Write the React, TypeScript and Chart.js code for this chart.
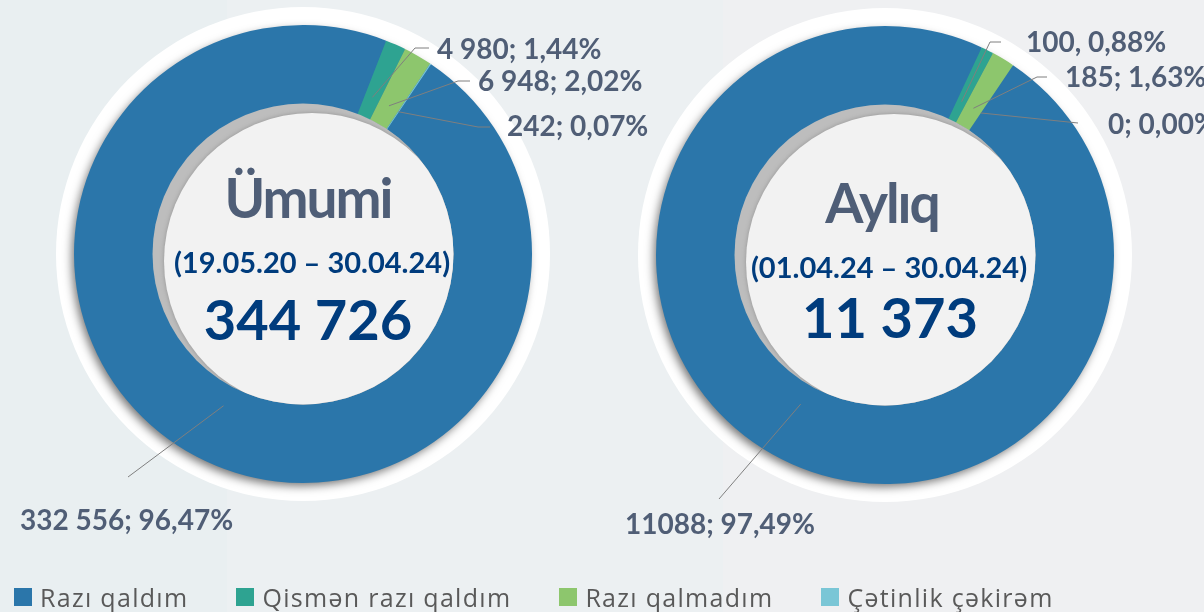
import React, { useEffect, useRef } from "react";
import { Chart, registerables } from "chart.js";

Chart.register(...registerables);

// ---------- data ----------
const categories = ["Razı qaldım", "Qismən razı qaldım", "Razı qalmadım", "Çətinlik çəkirəm"];
const colors = ["#2b76aa", "#2ea391", "#8dc66d", "#7ac6d6"];

const totalValues = [332556, 4980, 6948, 242];
const totalLabels = ["332 556; 96,47%", "4 980; 1,44%", "6 948; 2,02%", "242; 0,07%"];
const totalTitle = "Ümumi";
const totalPeriod = "(19.05.20 – 30.04.24)";
const totalSum = "344 726";

const monthlyValues = [11088, 100, 185, 0];
const monthlyLabels = ["11088; 97,49%", "100, 0,88%", "185; 1,63%", "0; 0,00%"];
const monthlyTitle = "Aylıq";
const monthlyPeriod = "(01.04.24 – 30.04.24)";
const monthlySum = "11 373";

// ---------- layout (relative to each donut centre) ----------
const W = 1204;
const H = 612;
const RADIUS = 229;

type LabelPos = { elbow: number[] | null; end: number[]; text: number[] };

const totalLayout = {
  cx: 303,
  cy: 254,
  title: [5, -36],
  period: [9, 19],
  sum: [5, 86],
  labels: [
    { elbow: null, end: [-175, 223], text: [-283, 267] },
    { elbow: [112, -206], end: [126, -206], text: [134, -204] },
    { elbow: [155, -173], end: [167, -173], text: [175, -172] },
    { elbow: [175, -127], end: [187, -127], text: [204, -127] },
  ] as LabelPos[],
};

const monthlyLayout = {
  cx: 885,
  cy: 255,
  title: [-3, -32],
  period: [4, 23],
  sum: [5, 83],
  labels: [
    { elbow: null, end: [-166, 244], text: [-260, 270] },
    { elbow: [105, -213], end: [116, -213], text: [141, -212] },
    { elbow: [152, -178], end: [162, -178], text: [180, -177] },
    { elbow: null, end: [193, -132], text: [223, -130] },
  ] as LabelPos[],
};

function decorPlugin(layout: typeof totalLayout, labels: string[], title: string, period: string, sum: string) {
  return {
    id: "decor",
    beforeDatasetsDraw(chart: any) {
      const arc = chart.getDatasetMeta(0).data[0];
      const { x, y, outerRadius } = arc.getProps(["x", "y", "outerRadius"], true);
      const ctx: CanvasRenderingContext2D = chart.ctx;
      ctx.save();
      ctx.beginPath();
      ctx.arc(x, y, outerRadius + 18, 0, Math.PI * 2);
      ctx.fillStyle = "#ffffff";
      ctx.fill();
      ctx.shadowColor = "rgba(0,0,0,0.55)";
      ctx.shadowBlur = 10;
      ctx.shadowOffsetX = -3;
      ctx.shadowOffsetY = 4;
      ctx.beginPath();
      ctx.arc(x, y, outerRadius - 1, 0, Math.PI * 2);
      ctx.fillStyle = colors[0];
      ctx.fill();
      ctx.restore();
    },
    afterDatasetsDraw(chart: any) {
      const meta = chart.getDatasetMeta(0);
      const first = meta.data[0];
      const { x, y, innerRadius } = first.getProps(["x", "y", "innerRadius", "outerRadius"], true);
      const ctx: CanvasRenderingContext2D = chart.ctx;
      ctx.save();
      // hole with inner shadow
      ctx.beginPath();
      ctx.arc(x, y, innerRadius + 0.5, 0, Math.PI * 2);
      ctx.fillStyle = "#bdbdbd";
      ctx.fill();
      ctx.save();
      ctx.clip();
      ctx.shadowColor = "rgba(120,120,120,0.6)";
      ctx.shadowBlur = 4;
      ctx.beginPath();
      ctx.arc(x + 9, y + 7, innerRadius - 2, 0, Math.PI * 2);
      ctx.fillStyle = "#f2f2f2";
      ctx.fill();
      ctx.restore();

      // centre texts
      ctx.textAlign = "center";
      ctx.textBaseline = "alphabetic";
      (ctx as any).letterSpacing = "-2px";
      ctx.fillStyle = "#4f5e77";
      ctx.font = "bold 55px Lato";
      ctx.fillText(title, x + layout.title[0], y + layout.title[1]);
      (ctx as any).letterSpacing = "0px";
      ctx.fillStyle = "#003c7d";
      ctx.font = "bold 29px Lato";
      ctx.fillText(period, x + layout.period[0], y + layout.period[1]);
      ctx.font = "bold 56px Lato";
      ctx.fillText(sum, x + layout.sum[0], y + layout.sum[1]);

      // leader lines + labels
      ctx.strokeStyle = "#7f7f7f";
      ctx.lineWidth = 1;
      ctx.font = "bold 28px Lato";
      ctx.fillStyle = "#505e76";
      ctx.textAlign = "left";
      ctx.textBaseline = "middle";
      meta.data.forEach((el: any, i: number) => {
        const p = el.getProps(["startAngle", "endAngle", "innerRadius", "outerRadius"], true);
        const mid = (p.startAngle + p.endAngle) / 2;
        const rs = p.innerRadius + 0.27 * (p.outerRadius - p.innerRadius);
        const pos = layout.labels[i];
        ctx.beginPath();
        ctx.moveTo(x + Math.cos(mid) * rs, y + Math.sin(mid) * rs);
        if (pos.elbow) ctx.lineTo(x + pos.elbow[0], y + pos.elbow[1]);
        ctx.lineTo(x + pos.end[0], y + pos.end[1]);
        ctx.stroke();
        ctx.fillText(labels[i], x + pos.text[0], y + pos.text[1]);
      });
      ctx.restore();
    },
  };
}

function makeConfig(values: number[], layout: typeof totalLayout, labels: string[], title: string, period: string, sum: string): any {
  return {
    type: "doughnut",
    data: {
      labels: categories,
      datasets: [
        {
          data: values,
          backgroundColor: colors,
          borderWidth: 0,
          hoverOffset: 0,
          offset: 0,
        },
      ],
    },
    options: {
      animation: false,
      responsive: false,
      maintainAspectRatio: false,
      rotation: 34,
      cutout: "65.5%",
      events: [],
      layout: {
        padding: {
          left: layout.cx - RADIUS,
          top: layout.cy - RADIUS,
          right: W - (layout.cx + RADIUS),
          bottom: H - (layout.cy + RADIUS),
        },
      },
      plugins: {
        legend: { display: false },
        tooltip: { enabled: false },
      },
    },
    plugins: [decorPlugin(layout, labels, title, period, sum)],
  };
}

export default function App() {
  const leftRef = useRef<HTMLCanvasElement>(null);
  const rightRef = useRef<HTMLCanvasElement>(null);

  useEffect(() => {
    const c1 = new Chart(leftRef.current!, makeConfig(totalValues, totalLayout, totalLabels, totalTitle, totalPeriod, totalSum));
    const c2 = new Chart(rightRef.current!, makeConfig(monthlyValues, monthlyLayout, monthlyLabels, monthlyTitle, monthlyPeriod, monthlySum));
    return () => {
      c1.destroy();
      c2.destroy();
    };
  }, []);

  const canvasStyle: React.CSSProperties = { position: "absolute", left: 0, top: 0, width: W, height: H };

  return (
    <div
      style={{
        position: "absolute",
        left: 0,
        top: 0,
        width: W,
        height: H,
        overflow: "hidden",
        background: "linear-gradient(to right, #e9eff1 0px, #e9eff1 227px, #ecf0f2 227px, #ecf0f2 723px, #eff0f2 723px, #eff0f2 100%)",
      }}
    >
      <canvas ref={leftRef} width={W} height={H} style={canvasStyle} />
      <canvas ref={rightRef} width={W} height={H} style={canvasStyle} />
      <div
        style={{
          position: "absolute",
          left: 14,
          top: 588,
          height: 18,
          display: "flex",
          alignItems: "center",
          fontFamily: "'Open Sans'",
          fontSize: 25,
          lineHeight: "18px",
          letterSpacing: "1.3px",
          color: "#595959",
          whiteSpace: "nowrap",
        }}
      >
        {categories.map((c, i) => (
          <div key={c} style={{ display: "flex", alignItems: "center", height: 18, marginRight: 48 }}>
            <span style={{ display: "inline-block", width: 18, height: 18, background: colors[i], marginRight: 8 }} />
            <span style={{ lineHeight: "18px" }}>{c}</span>
          </div>
        ))}
      </div>
    </div>
  );
}
